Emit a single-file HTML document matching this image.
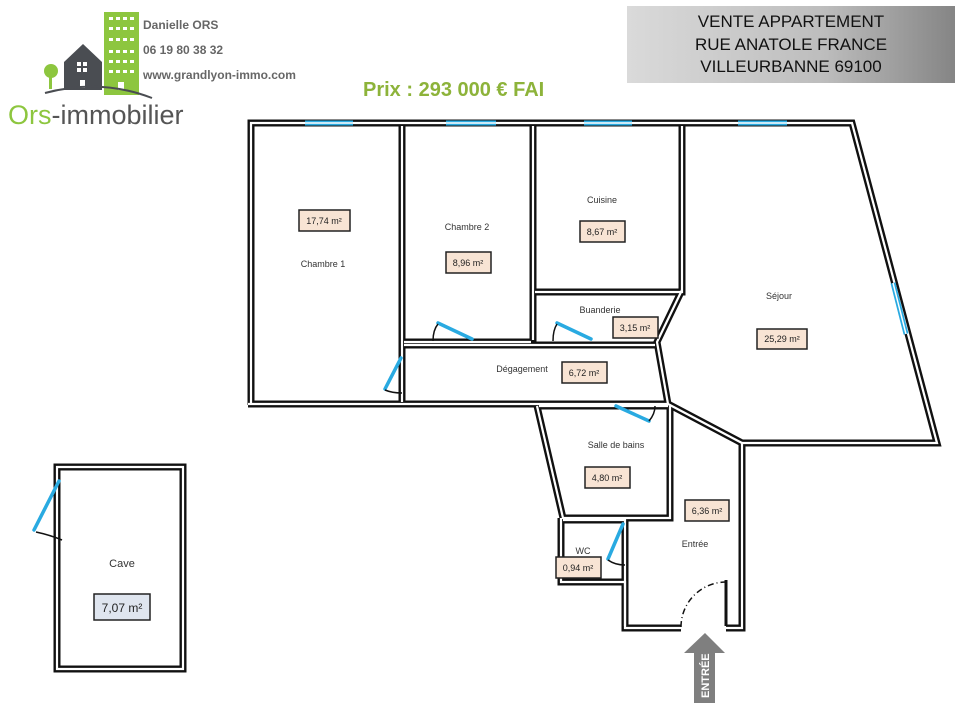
<!DOCTYPE html>
<html><head><meta charset="utf-8"><style>
html,body{margin:0;padding:0;background:#fff;width:960px;height:720px;overflow:hidden}
svg{display:block}
</style></head><body>
<svg width="960" height="720" viewBox="0 0 960 720" xmlns="http://www.w3.org/2000/svg" font-family="Liberation Sans, sans-serif">
<defs>
<linearGradient id="g" x1="0" x2="1" y1="0" y2="0"><stop offset="0" stop-color="#dadada"/><stop offset="0.6" stop-color="#bdbdbd"/><stop offset="1" stop-color="#858585"/></linearGradient>
</defs>
<!-- logo -->
<rect x="104" y="12" width="35" height="83" fill="#8dc63f"/>
<g fill="#fff">
<rect x="109" y="17" width="4" height="3"/><rect x="116" y="17" width="4" height="3"/><rect x="123" y="17" width="4" height="3"/><rect x="130" y="17" width="4" height="3"/>
<rect x="109" y="27" width="4" height="3"/><rect x="116" y="27" width="4" height="3"/><rect x="123" y="27" width="4" height="3"/><rect x="130" y="27" width="4" height="3"/>
<rect x="109" y="38" width="4" height="3"/><rect x="116" y="38" width="4" height="3"/><rect x="123" y="38" width="4" height="3"/><rect x="130" y="38" width="4" height="3"/>
<rect x="109" y="50" width="4" height="3"/><rect x="116" y="50" width="4" height="3"/><rect x="123" y="50" width="4" height="3"/><rect x="130" y="50" width="4" height="3"/>
<rect x="109" y="60" width="4" height="3"/><rect x="116" y="60" width="4" height="3"/><rect x="123" y="60" width="4" height="3"/><rect x="130" y="60" width="4" height="3"/>
<rect x="109" y="70" width="4" height="3"/><rect x="116" y="70" width="4" height="3"/><rect x="123" y="70" width="4" height="3"/><rect x="130" y="70" width="4" height="3"/>
</g>
<polygon points="64,62 83,44 102,62 102,90 64,90" fill="#4a4d52"/>
<rect x="77" y="62" width="10" height="10" fill="#fff"/><rect x="81" y="62" width="2" height="10" fill="#4a4d52"/><rect x="77" y="66" width="10" height="2" fill="#4a4d52"/>
<rect x="80" y="80" width="5" height="8" fill="#fff"/>
<rect x="118" y="82" width="6" height="8" fill="#fff"/>
<circle cx="51" cy="71" r="7" fill="#8dc63f"/><rect x="49" y="75" width="3" height="14" fill="#8dc63f"/>
<path d="M45,93 Q100,78 152,98" stroke="#4a4d52" stroke-width="2" fill="none"/>
<text x="8" y="124" font-size="27" fill="#8dc63f">Ors<tspan fill="#555">-immobilier</tspan></text>
<g font-size="12" font-weight="bold" fill="#666">
<text x="143" y="29">Danielle ORS</text>
<text x="143" y="54">06 19 80 38 32</text>
<text x="143" y="79">www.grandlyon-immo.com</text>
</g>
<text x="363" y="96" font-size="20" font-weight="bold" fill="#8db33a">Prix : 293 000 € FAI</text>
<rect x="627" y="6" width="328" height="77" fill="url(#g)"/>
<g font-size="17" text-anchor="middle" fill="#111">
<text x="791" y="27">VENTE  APPARTEMENT</text>
<text x="791" y="50">RUE ANATOLE FRANCE</text>
<text x="791" y="72">VILLEURBANNE 69100</text>
</g>
<!-- walls -->
<g fill="none" stroke-linejoin="miter">
<g id="w" stroke="#111" stroke-width="7">
<path d="M251,405 L251,123 L852,123 L937,443 L742,443 L742,628 L625,628 L625,582 L561,582 L561,518"/>
<path d="M248,404 L668,404"/>
<path d="M402,123 L402,404"/>
<path d="M402,342 L533,342"/>
<path d="M533,123 L533,342"/>
<path d="M533,292 L682,292 L682,123"/>
<path d="M682,290 L657,342 L668,404 L742,443"/>
<path d="M402,345 L655,345"/>
<path d="M537,406 L563,518 L670,518 L670,406"/>
<path d="M537,406 L668,406"/>
<path d="M561,520 L625,520 L625,628"/>
<path d="M57,467 L183,467 L183,669 L57,669 Z"/>
</g>
<g stroke="#fff" stroke-width="2.2">
<path d="M251,405 L251,123 L852,123 L937,443 L742,443 L742,628 L625,628 L625,582 L561,582 L561,518"/>
<path d="M248,404 L668,404"/>
<path d="M402,126 L402,402"/>
<path d="M404,342 L531,342"/>
<path d="M533,126 L533,340"/>
<path d="M535,292 L682,292 L682,126"/>
<path d="M682,290 L657,342 L668,404 L742,443"/>
<path d="M404,345 L655,345"/>
<path d="M537,406 L563,518 L670,518 L670,406"/>
<path d="M539,406 L668,406"/>
<path d="M563,520 L625,520 L625,626"/>
<path d="M57,467 L183,467 L183,669 L57,669 Z"/>
</g>
</g>
<!-- windows -->
<g stroke="#29aae1" stroke-width="5">
<line x1="305" y1="123" x2="353" y2="123"/><line x1="446" y1="123" x2="496" y2="123"/>
<line x1="584" y1="123" x2="632" y2="123"/><line x1="738" y1="123" x2="787" y2="123"/>
<line x1="893" y1="283" x2="906" y2="334"/>
</g>
<g stroke="#fff" stroke-width="1.5">
<line x1="305" y1="123" x2="353" y2="123"/><line x1="446" y1="123" x2="496" y2="123"/>
<line x1="584" y1="123" x2="632" y2="123"/><line x1="738" y1="123" x2="787" y2="123"/>
<line x1="893" y1="283" x2="906" y2="334"/>
</g>
<!-- entrance opening -->
<rect x="681" y="622" width="45" height="12" fill="#fff"/>
<line x1="726" y1="580" x2="726" y2="626" stroke="#111" stroke-width="3"/>
<path d="M681,627 A45,45 0 0 1 726,582" stroke="#111" stroke-width="1.5" fill="none" stroke-dasharray="6,3,1,3"/>
<!-- doors -->
<g stroke="#29aae1" stroke-width="3.5" stroke-linecap="round">
<line x1="401" y1="358" x2="385" y2="389"/>
<line x1="438" y1="323" x2="472" y2="339"/>
<line x1="557" y1="323" x2="591" y2="339"/>
<line x1="616" y1="406" x2="649" y2="421"/>
<line x1="623" y1="524" x2="608" y2="559"/>
<line x1="59" y1="481" x2="34" y2="530"/>
</g>
<g stroke="#111" stroke-width="1.5" fill="none">
<path d="M385,390 Q392,393 402,393"/>
<path d="M438,324 Q433,330 433,341"/>
<path d="M557,324 Q553,330 553,341"/>
<path d="M649,421 Q655,414 655,406"/>
<path d="M608,560 Q615,565 625,565"/>
<path d="M36,532 Q50,535 62,540"/>
</g>
<!-- labels -->
<g font-size="9" fill="#333" text-anchor="middle">
<text x="323" y="267">Chambre 1</text>
<text x="467" y="230">Chambre 2</text>
<text x="602" y="203">Cuisine</text>
<text x="600" y="313">Buanderie</text>
<text x="522" y="372">Dégagement</text>
<text x="779" y="299">Séjour</text>
<text x="616" y="448">Salle de bains</text>
<text x="695" y="547">Entrée</text>
<text x="583" y="554">WC</text>
<text x="122" y="567" font-size="11">Cave</text>
</g>
<g stroke="#222" stroke-width="1.5" fill="#f8e4d4">
<rect x="299" y="210" width="51" height="21"/>
<rect x="446" y="252" width="45" height="21"/>
<rect x="580" y="221" width="45" height="21"/>
<rect x="613" y="317" width="45" height="21"/>
<rect x="562" y="362" width="45" height="21"/>
<rect x="757" y="329" width="50" height="20"/>
<rect x="585" y="467" width="45" height="21"/>
<rect x="685" y="500" width="44" height="21"/>
<rect x="556" y="557" width="45" height="21"/>
<rect x="94" y="594" width="56" height="26" fill="#dfe5ef"/>
</g>
<g font-size="9" fill="#222" text-anchor="middle">
<text x="324" y="224">17,74 m²</text>
<text x="468" y="266">8,96 m²</text>
<text x="602" y="235">8,67 m²</text>
<text x="635" y="331">3,15 m²</text>
<text x="584" y="376">6,72 m²</text>
<text x="782" y="342">25,29 m²</text>
<text x="607" y="481">4,80 m²</text>
<text x="707" y="514">6,36 m²</text>
<text x="578" y="571">0,94 m²</text>
<text x="122" y="612" font-size="12">7,07 m²</text>
</g>
<!-- arrow -->
<polygon points="705,633 725,653 715,653 715,703 694,703 694,653 684,653" fill="#7f7f7f"/>
<text transform="translate(709,698) rotate(-90)" font-size="11" font-weight="bold" fill="#fff">ENTRÉE</text>
</svg>
</body></html>
